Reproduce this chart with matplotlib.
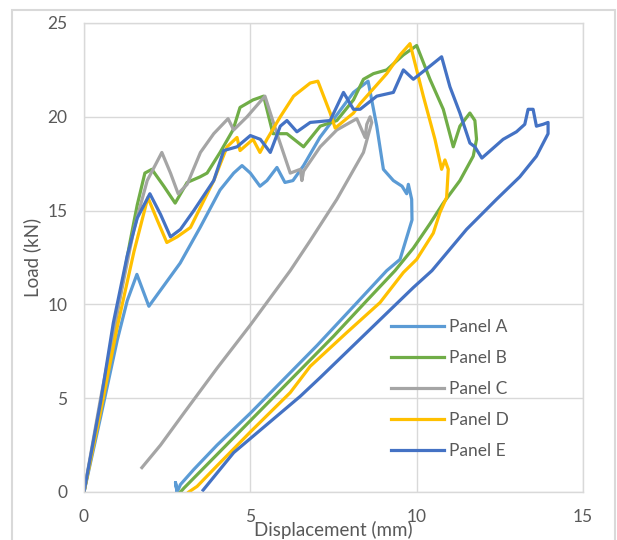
import matplotlib
matplotlib.use('Agg')
import matplotlib.pyplot as plt
import matplotlib.patches as patches

plt.rcParams['font.family'] = ['Lato', 'DejaVu Sans']

# values (displacement mm, load kN)
panel_a_x = [0, 0.5, 1.0, 1.3, 1.59, 1.95, 2.4, 2.89, 3.49, 4.09, 4.5, 4.75, 5.0, 5.29, 5.5, 5.8,
             6.04, 6.28, 6.6, 7.09, 7.6, 8.1, 8.54, 8.8, 9.0, 9.3, 9.56, 9.7, 9.75, 9.85, 9.86,
             9.74, 9.5, 9.1, 8.0, 7.0, 6.0, 5.0, 4.0, 3.3, 2.9, 2.8, 2.75, 2.8]
panel_a_y = [0, 4.0, 8.1, 10.2, 11.6, 9.9, 11.0, 12.2, 14.1, 16.1, 17.0, 17.4, 17.0, 16.3, 16.6, 17.3,
             16.5, 16.6, 17.4, 18.9, 20.1, 21.3, 21.9, 19.5, 17.2, 16.6, 16.3, 15.9, 16.4, 15.6, 14.5,
             13.8, 12.4, 11.8, 9.7, 7.8, 6.0, 4.2, 2.5, 1.2, 0.4, 0.0, 0.5, 0.0]

panel_b_x = [0, 0.5, 1.0, 1.38, 1.6, 1.83, 2.04, 2.4, 2.74, 3.1, 3.49, 3.7, 4.09, 4.48, 4.69, 5.08,
             5.4, 5.68, 6.1, 6.6, 7.1, 7.6, 8.1, 8.4, 8.7, 9.1, 9.6, 10.0, 10.4, 10.8, 11.1, 11.3,
             11.6, 11.75, 11.8, 11.7, 11.3, 10.8, 10.4, 9.9, 9.35, 8.5, 7.5, 6.5, 5.5, 4.5, 3.5,
             3.0, 2.9]
panel_b_y = [0, 4.6, 9.6, 13.3, 15.3, 17.0, 17.2, 16.3, 15.4, 16.5, 16.8, 17.0, 18.1, 19.3, 20.5, 20.9,
             21.1, 19.1, 19.1, 18.4, 19.5, 19.8, 20.9, 22.0, 22.3, 22.5, 23.3, 23.8, 22.0, 20.4, 18.4, 19.5,
             20.2, 19.8, 18.8, 17.9, 16.6, 15.4, 14.3, 13.0, 11.8, 10.2, 8.3, 6.5, 4.7, 2.9, 1.1,
             0.2, 0.0]

panel_c_x = [0, 0.5, 1.0, 1.5, 1.9, 2.34, 2.6, 2.83, 3.1, 3.5, 3.9, 4.33, 4.5, 4.9, 5.44, 5.8,
             6.2, 6.5, 6.55, 6.6, 7.1, 7.6, 8.2, 8.45, 8.5, 8.6, 8.65, 8.4, 7.6, 6.8, 6.2, 5.0,
             4.0, 3.0, 2.3, 1.74]
panel_c_y = [0, 5.0, 9.6, 14.0, 16.6, 18.1, 17.0, 15.9, 16.4, 18.1, 19.1, 19.9, 19.3, 20.0, 21.1, 19.1,
             17.0, 17.2, 16.6, 17.1, 18.4, 19.3, 19.9, 18.9, 19.6, 20.0, 19.7, 18.1, 15.6, 13.4, 11.8, 8.9,
             6.6, 4.2, 2.5, 1.3]

panel_d_x = [0, 0.5, 1.0, 1.5, 1.92, 2.2, 2.49, 2.8, 3.2, 3.9, 4.3, 4.6, 4.69, 5.08, 5.29, 5.5,
             5.9, 6.3, 6.8, 7.03, 7.4, 7.55, 8.1, 8.3, 9.1, 9.5, 9.8, 10.2, 10.55, 10.75, 10.85,
             10.95, 10.9, 10.7, 10.5, 10.0, 9.6, 8.9, 7.9, 6.8, 6.2, 5.0, 4.0, 3.4, 3.15]
panel_d_y = [0, 4.3, 8.8, 12.8, 15.7, 14.5, 13.3, 13.6, 14.1, 16.6, 18.4, 18.9, 18.2, 18.8, 18.1, 18.8,
             20.0, 21.1, 21.8, 21.9, 20.2, 19.4, 20.2, 20.7, 22.3, 23.3, 23.9, 21.1, 18.8, 17.2, 17.7,
             17.2, 15.7, 14.9, 13.8, 12.4, 11.7, 10.1, 8.5, 6.7, 5.3, 3.2, 1.4, 0.3, 0.0]

panel_e_x = [0, 0.5, 0.88, 1.3, 1.6, 1.98, 2.3, 2.6, 2.9, 3.3, 3.9, 4.2, 4.6, 5.0, 5.3, 5.6,
             5.9, 6.1, 6.4, 6.8, 7.4, 7.8, 8.1, 8.3, 8.8, 9.3, 9.6, 9.9, 10.4, 10.75, 11.0, 11.3,
             11.6, 11.75, 11.96, 12.6, 13.0, 13.25, 13.35, 13.5, 13.6, 13.8, 13.95, 13.95, 13.6,
             13.1, 12.4, 11.5, 10.46, 9.9, 8.5, 7.1, 6.5, 4.5, 3.58]
panel_e_y = [0, 4.8, 9.0, 12.6, 14.6, 15.9, 14.8, 13.6, 14.0, 15.0, 16.6, 18.2, 18.4, 19.0, 18.8, 18.1,
             19.5, 19.8, 19.2, 19.7, 19.8, 21.3, 20.4, 20.4, 21.1, 21.3, 22.5, 22.0, 22.7, 23.2, 21.6, 20.2,
             18.6, 18.4, 17.8, 18.8, 19.2, 19.6, 20.4, 20.4, 19.5, 19.6, 19.7, 19.1, 17.9,
             16.8, 15.6, 14.0, 11.8, 10.9, 8.5, 6.1, 5.1, 2.1, 0.1]

labels = ['Panel A', 'Panel B', 'Panel C', 'Panel D', 'Panel E']
colors = ['#5B9BD5', '#70AD47', '#A5A5A5', '#FFC000', '#4472C4']
xticks = [0, 5, 10, 15]
yticks = [0, 5, 10, 15, 20, 25]

series = [(panel_a_x, panel_a_y), (panel_b_x, panel_b_y), (panel_c_x, panel_c_y),
          (panel_d_x, panel_d_y), (panel_e_x, panel_e_y)]

text_color = '#595959'
grid_color = '#D9D9D9'

fig = plt.figure(figsize=(6.17, 5.40), dpi=100)
ax = fig.add_axes([84 / 617, 1 - 492 / 540, 499 / 617, 469 / 540])

# outer chart border
fig.patches.append(patches.Rectangle((12 / 617, -0.05), 603 / 617, 1 - 10 / 540 + 0.05,
                                     transform=fig.transFigure, fill=False,
                                     edgecolor=grid_color, linewidth=1.5))

for (xs, ys), lab, col in zip(series, labels, colors):
    ax.plot(xs, ys, color=col, linewidth=2.3, label=lab, solid_joinstyle='round')

ax.set_xlim(0, 15)
ax.set_ylim(0, 25)
ax.set_xticks(xticks)
ax.set_yticks(yticks)
ax.grid(True, color=grid_color, linewidth=1)
ax.set_axisbelow(True)
for s in ax.spines.values():
    s.set_color(grid_color)
    s.set_linewidth(1)
ax.tick_params(length=0, labelsize=12.5, colors=text_color, pad=12)

ax.set_xlabel('Displacement (mm)', fontsize=13.5, color=text_color)
ax.xaxis.label.set_va('center')
ax.xaxis.set_label_coords(0.5, (492 - 530) / 469)
ax.set_ylabel('Load (kN)', fontsize=13.5, color=text_color)
ax.yaxis.label.set_va('center')
ax.yaxis.set_label_coords((32 - 84) / 499, 0.5)

leg = ax.legend(loc='center left', bbox_to_anchor=(0.615, 0.219), frameon=False,
                fontsize=12.5, handlelength=3.05, handletextpad=0.3, labelspacing=0.87,
                borderpad=0, borderaxespad=0)
for t in leg.get_texts():
    t.set_color(text_color)

fig.savefig('out.png', dpi=100)
